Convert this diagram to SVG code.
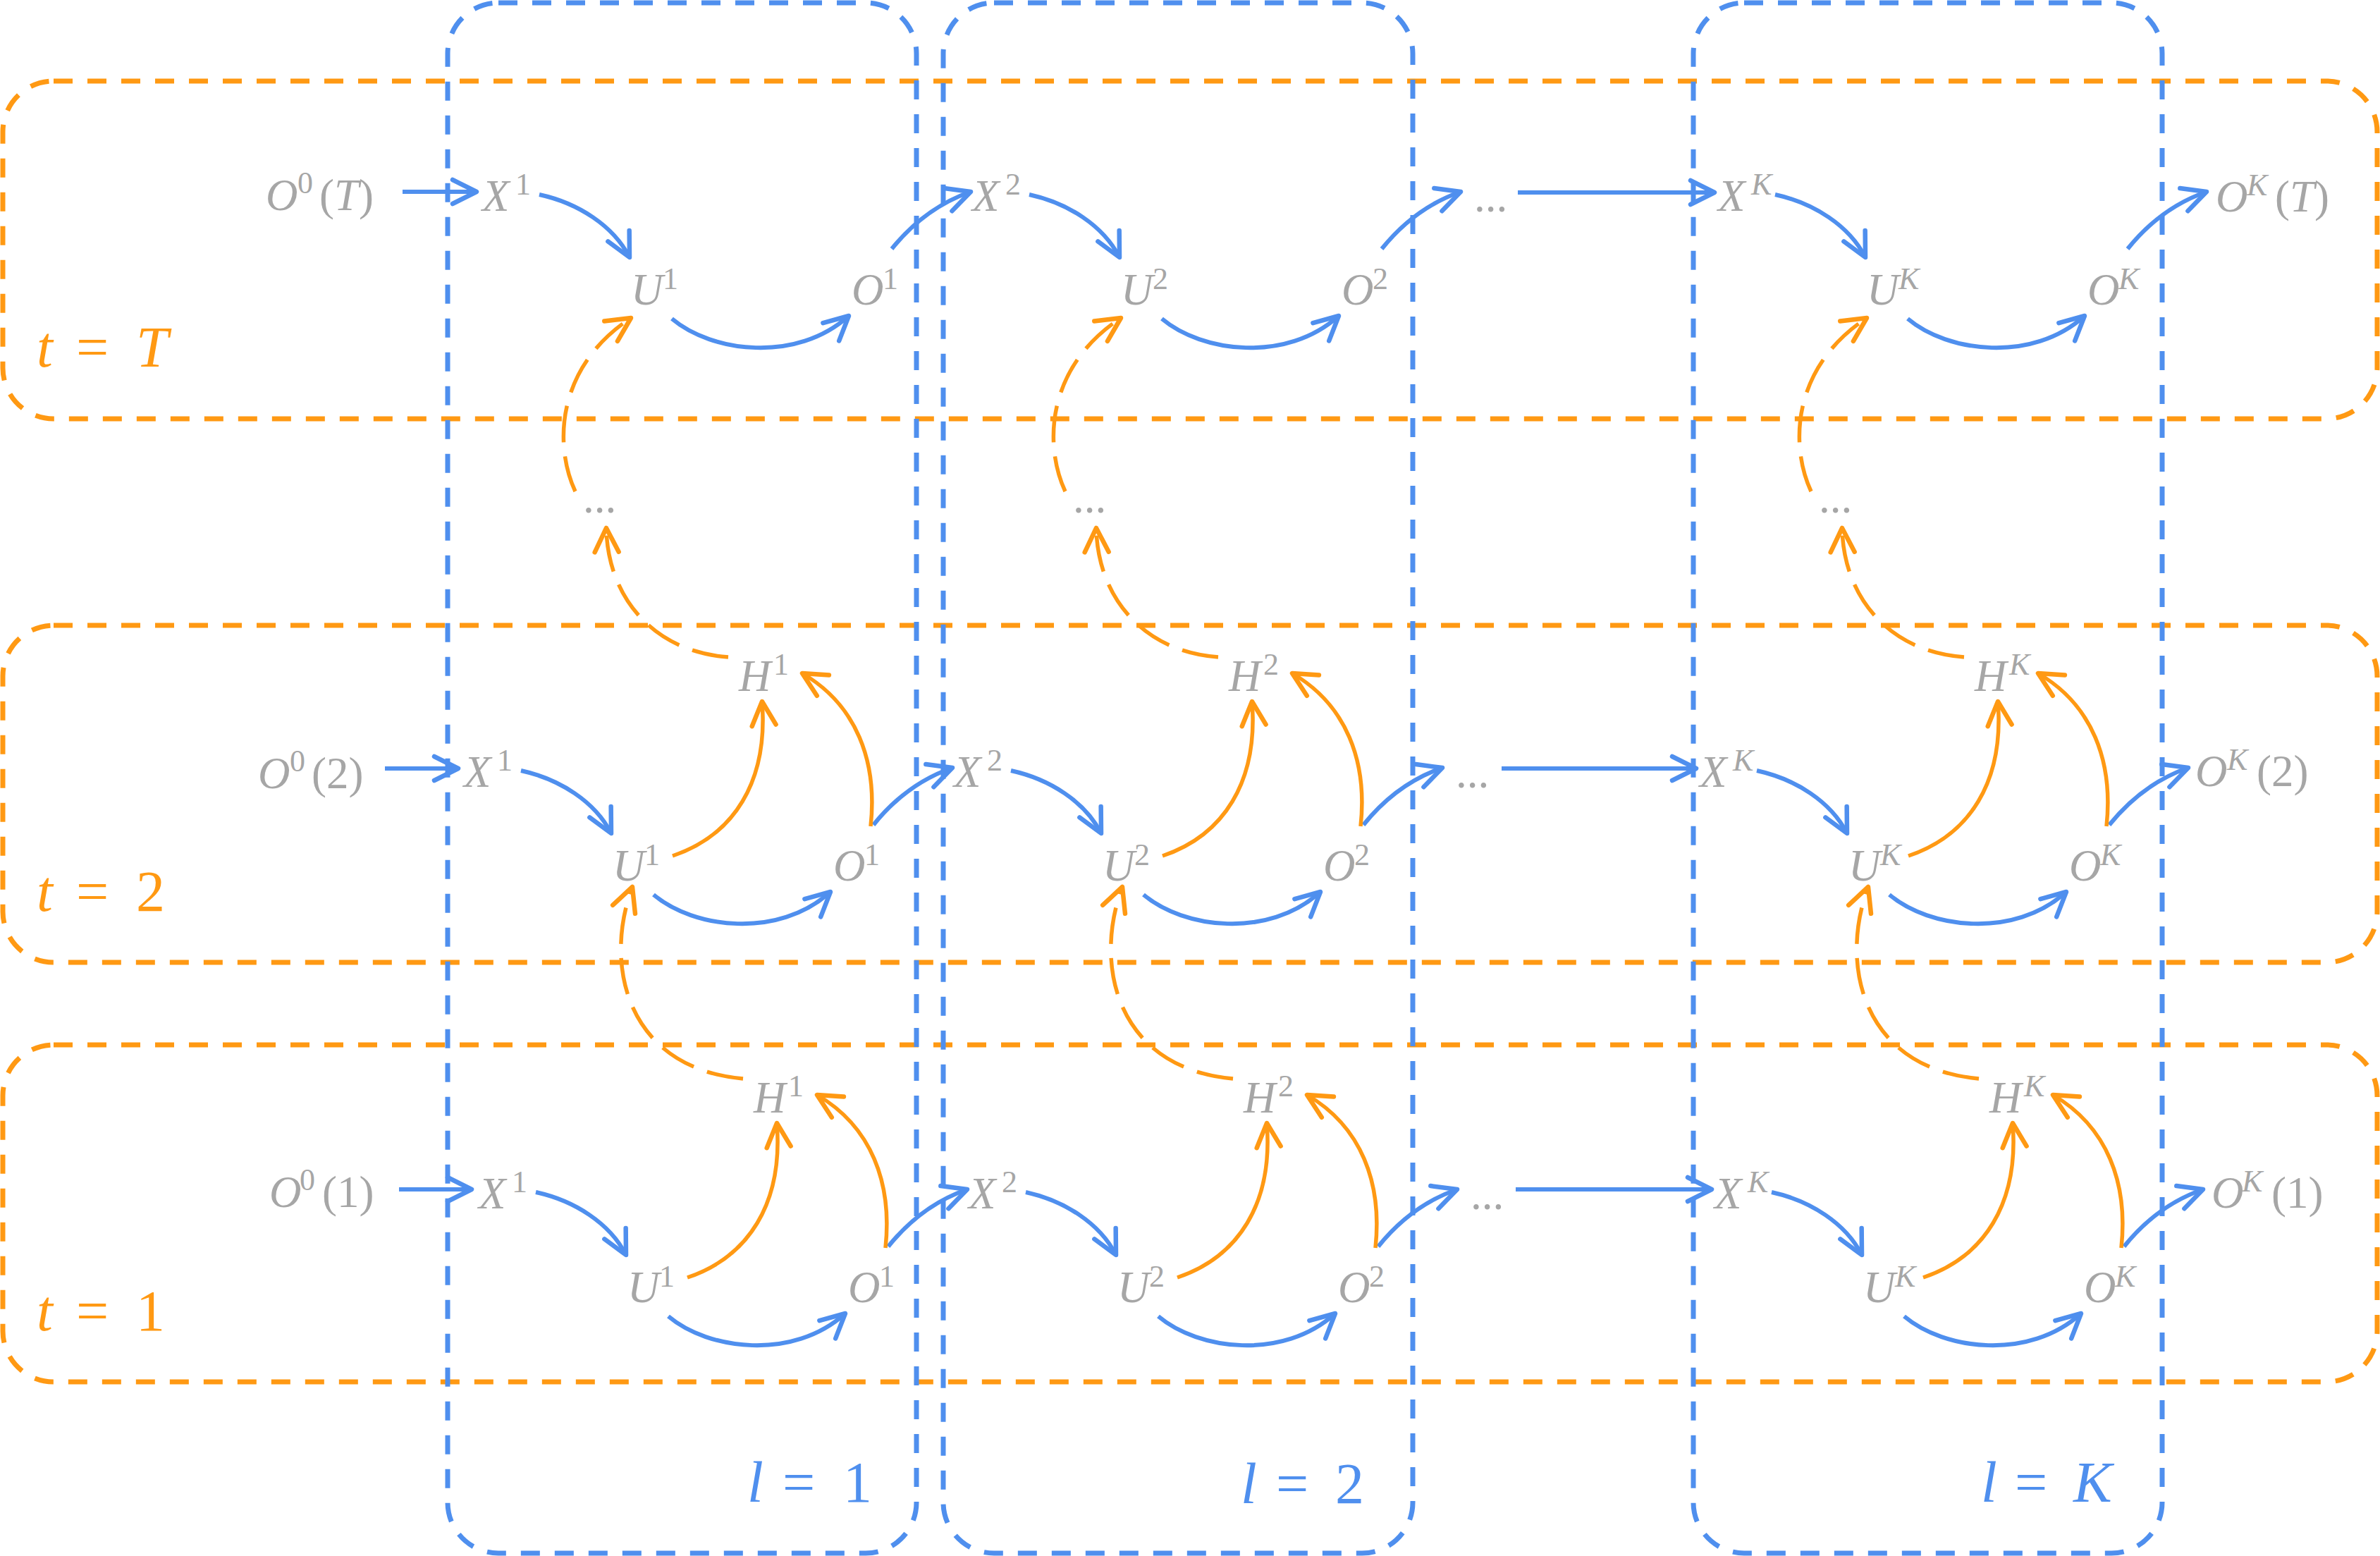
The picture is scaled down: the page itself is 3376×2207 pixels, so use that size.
<svg xmlns="http://www.w3.org/2000/svg" width="3376" height="2207" viewBox="0 0 3376 2207">
<style>
.fb{fill:none;stroke:#4F8FEE;stroke-width:7;stroke-dasharray:27 21}
.fo{fill:none;stroke:#FF9913;stroke-width:7;stroke-dasharray:27 21}
.n{font-family:"Liberation Serif",serif;font-size:63px;fill:#A6A6A6}
.s{font-size:44px}
.i{font-style:italic}
.cb{fill:none;stroke:#4F8FEE;stroke-width:6;marker-end:url(#ab)}
.co{fill:none;stroke:#FF9913;stroke-width:5.5;marker-end:url(#ao)}
.cd{fill:none;stroke:#FF9913;stroke-width:5.5;stroke-dasharray:52 20;marker-end:url(#ao)}
.lb{font-family:"Liberation Serif",serif;font-size:82px;fill:#4F8FEE}
.lo{font-family:"Liberation Serif",serif;font-size:82px;fill:#FF9913}
</style>
<defs>
<marker id="ab" markerUnits="userSpaceOnUse" viewBox="-40 -22 46 44" markerWidth="46" markerHeight="44" refX="0" refY="0" orient="auto" overflow="visible">
<path d="M-34,-17 L0,0 L-34,17" fill="none" stroke="#4F8FEE" stroke-width="6.5" stroke-linecap="round" stroke-linejoin="round"/>
</marker>
<marker id="ao" markerUnits="userSpaceOnUse" viewBox="-40 -22 46 44" markerWidth="46" markerHeight="44" refX="0" refY="0" orient="auto" overflow="visible">
<path d="M-34,-17 L0,0 L-34,17" fill="none" stroke="#FF9913" stroke-width="6.5" stroke-linecap="round" stroke-linejoin="round"/>
</marker>
</defs>

<g id="frames">
<rect class="fo" x="4" y="115" width="3368" height="479" rx="72"/>
<rect class="fo" x="4" y="887" width="3368" height="478" rx="72"/>
<rect class="fo" x="4" y="1482" width="3368" height="478" rx="72"/>
<rect class="fb" x="635" y="4" width="665" height="2199" rx="72"/>
<rect class="fb" x="1338" y="4" width="666" height="2199" rx="72"/>
<rect class="fb" x="2402" y="4" width="665" height="2199" rx="72"/>
</g>

<g id="connectors">
<!-- row T -->
<path class="cb" d="M571,272 L676,272"/>
<path class="cb" d="M2153,273 L2432,273"/>
<g transform="translate(0,0)">
<path class="cb" d="M765,276 C820,288 870,320 893,365"/>
<path class="cb" d="M953,452 C1010,500 1130,515 1204,448"/>
<path class="cb" d="M1265,353 C1290,322 1325,290 1377,272"/>
</g>
<g transform="translate(695,0)">
<path class="cb" d="M765,276 C820,288 870,320 893,365"/>
<path class="cb" d="M953,452 C1010,500 1130,515 1204,448"/>
<path class="cb" d="M1265,353 C1290,322 1325,290 1377,272"/>
</g>
<g transform="translate(1753,0)">
<path class="cb" d="M765,276 C820,288 870,320 893,365"/>
<path class="cb" d="M953,452 C1010,500 1130,515 1204,448"/>
<path class="cb" d="M1265,353 C1290,322 1325,290 1377,272"/>
</g>
<!-- row 2 -->
<path class="cb" d="M546,1090 L650,1090"/>
<path class="cb" d="M2130,1090 L2406,1090"/>
<g transform="translate(-26,817)">
<path class="cb" d="M765,276 C820,288 870,320 893,365"/>
<path class="cb" d="M953,452 C1010,500 1130,515 1204,448"/>
<path class="cb" d="M1265,353 C1290,322 1325,290 1377,272"/>
<path class="co" d="M980,397 C1066,368 1116,293 1107,178"/>
<path class="co" d="M1261,355 C1271,263 1241,183 1164,138"/>
</g>
<g transform="translate(669,817)">
<path class="cb" d="M765,276 C820,288 870,320 893,365"/>
<path class="cb" d="M953,452 C1010,500 1130,515 1204,448"/>
<path class="cb" d="M1265,353 C1290,322 1325,290 1377,272"/>
<path class="co" d="M980,397 C1066,368 1116,293 1107,178"/>
<path class="co" d="M1261,355 C1271,263 1241,183 1164,138"/>
</g>
<g transform="translate(1727,817)">
<path class="cb" d="M765,276 C820,288 870,320 893,365"/>
<path class="cb" d="M953,452 C1010,500 1130,515 1204,448"/>
<path class="cb" d="M1265,353 C1290,322 1325,290 1377,272"/>
<path class="co" d="M980,397 C1066,368 1116,293 1107,178"/>
<path class="co" d="M1261,355 C1271,263 1241,183 1164,138"/>
</g>
<!-- row 1 -->
<path class="cb" d="M566,1687 L669,1687"/>
<path class="cb" d="M2150,1687 L2428,1687"/>
<g transform="translate(-5,1415)">
<path class="cb" d="M765,276 C820,288 870,320 893,365"/>
<path class="cb" d="M953,452 C1010,500 1130,515 1204,448"/>
<path class="cb" d="M1265,353 C1290,322 1325,290 1377,272"/>
<path class="co" d="M980,397 C1066,368 1116,293 1107,178"/>
<path class="co" d="M1261,355 C1271,263 1241,183 1164,138"/>
</g>
<g transform="translate(690,1415)">
<path class="cb" d="M765,276 C820,288 870,320 893,365"/>
<path class="cb" d="M953,452 C1010,500 1130,515 1204,448"/>
<path class="cb" d="M1265,353 C1290,322 1325,290 1377,272"/>
<path class="co" d="M980,397 C1066,368 1116,293 1107,178"/>
<path class="co" d="M1261,355 C1271,263 1241,183 1164,138"/>
</g>
<g transform="translate(1748,1415)">
<path class="cb" d="M765,276 C820,288 870,320 893,365"/>
<path class="cb" d="M953,452 C1010,500 1130,515 1204,448"/>
<path class="cb" d="M1265,353 C1290,322 1325,290 1377,272"/>
<path class="co" d="M980,397 C1066,368 1116,293 1107,178"/>
<path class="co" d="M1261,355 C1271,263 1241,183 1164,138"/>
</g>
<!-- dashed inter-row -->
<g transform="translate(0,0)">
<path class="cd" d="M1033,932 C930,925 862,850 860,749"/>
<path class="cd" d="M816,697 C785,630 790,520 895,451"/>
<path class="cd" d="M1054,1530 C890,1515 855,1370 897,1258"/>
</g>
<g transform="translate(695,0)">
<path class="cd" d="M1033,932 C930,925 862,850 860,749"/>
<path class="cd" d="M816,697 C785,630 790,520 895,451"/>
<path class="cd" d="M1054,1530 C890,1515 855,1370 897,1258"/>
</g>
<g transform="translate(1753,0)">
<path class="cd" d="M1033,932 C930,925 862,850 860,749"/>
<path class="cd" d="M816,697 C785,630 790,520 895,451"/>
<path class="cd" d="M1054,1530 C890,1515 855,1370 897,1258"/>
</g>
</g>

<!-- row T nodes -->
<g id="O0-T"><text class="n" y="298"><tspan x="377" class="i">O</tspan><tspan x="422" y="274" class="s">0</tspan><tspan x="453" y="298">(</tspan><tspan class="i">T</tspan>)</text></g>
<g id="X1-T" transform="translate(684,299)"><text class="n i">X</text><text class="n s" x="47" y="-23">1</text></g>
<g id="U1-T" transform="translate(895,432)"><text class="n i">U</text><text class="n s" x="45" y="-22">1</text></g>
<g id="O1-T" transform="translate(1208,432)"><text class="n i">O</text><text class="n s" x="44" y="-22">1</text></g>
<g id="X2-T" transform="translate(1379,299)"><text class="n i">X</text><text class="n s" x="47" y="-23">2</text></g>
<g id="U2-T" transform="translate(1590,432)"><text class="n i">U</text><text class="n s" x="45" y="-22">2</text></g>
<g id="O2-T" transform="translate(1903,432)"><text class="n i">O</text><text class="n s" x="44" y="-22">2</text></g>
<g id="dots-T" transform="translate(2091,300)"><text class="n">...</text></g>
<g id="XK-T" transform="translate(2437,299)"><text class="n i">X</text><text class="n s i" x="47" y="-23">K</text></g>
<g id="UK-T" transform="translate(2648,432)"><text class="n i">U</text><text class="n s i" x="45" y="-22">K</text></g>
<g id="OK-T" transform="translate(2961,432)"><text class="n i">O</text><text class="n s i" x="44" y="-22">K</text></g>
<g id="OKT"><text class="n" y="300"><tspan x="3143" class="i">O</tspan><tspan x="3187" y="277" class="s i">K</tspan><tspan x="3227" y="300">(</tspan><tspan class="i">T</tspan>)</text></g>

<!-- vertical dots -->
<g id="vdots-1" transform="translate(827,727)"><text class="n">...</text></g>
<g id="vdots-2" transform="translate(1522,727)"><text class="n">...</text></g>
<g id="vdots-K" transform="translate(2580,727)"><text class="n">...</text></g>

<!-- row 2 nodes -->
<g id="O0-2"><text class="n" y="1118"><tspan x="366" class="i">O</tspan><tspan x="411" y="1094" class="s">0</tspan><tspan x="442" y="1118">(2)</tspan></text></g>
<g id="X1-2" transform="translate(658,1116)"><text class="n i">X</text><text class="n s" x="47" y="-23">1</text></g>
<g id="U1-2" transform="translate(869,1249)"><text class="n i">U</text><text class="n s" x="45" y="-22">1</text></g>
<g id="O1-2" transform="translate(1182,1249)"><text class="n i">O</text><text class="n s" x="44" y="-22">1</text></g>
<g id="H1-2" transform="translate(1048,980)"><text class="n i">H</text><text class="n s" x="49" y="-23">1</text></g>
<g id="X2-2" transform="translate(1353,1116)"><text class="n i">X</text><text class="n s" x="47" y="-23">2</text></g>
<g id="U2-2" transform="translate(1564,1249)"><text class="n i">U</text><text class="n s" x="45" y="-22">2</text></g>
<g id="O2-2" transform="translate(1877,1249)"><text class="n i">O</text><text class="n s" x="44" y="-22">2</text></g>
<g id="H2-2" transform="translate(1743,980)"><text class="n i">H</text><text class="n s" x="49" y="-23">2</text></g>
<g id="dots-2" transform="translate(2065,1117)"><text class="n">...</text></g>
<g id="XK-2" transform="translate(2411,1116)"><text class="n i">X</text><text class="n s i" x="47" y="-23">K</text></g>
<g id="UK-2" transform="translate(2622,1249)"><text class="n i">U</text><text class="n s i" x="45" y="-22">K</text></g>
<g id="OK-2" transform="translate(2935,1249)"><text class="n i">O</text><text class="n s i" x="44" y="-22">K</text></g>
<g id="HK-2" transform="translate(2801,980)"><text class="n i">H</text><text class="n s i" x="49" y="-23">K</text></g>
<g id="OK2"><text class="n" y="1115"><tspan x="3114" class="i">O</tspan><tspan x="3159" y="1092" class="s i">K</tspan><tspan x="3201" y="1115">(2)</tspan></text></g>

<!-- row 1 nodes -->
<g id="O0-1"><text class="n" y="1712"><tspan x="382" class="i">O</tspan><tspan x="425" y="1688" class="s">0</tspan><tspan x="457" y="1712">(1)</tspan></text></g>
<g id="X1-1" transform="translate(679,1714)"><text class="n i">X</text><text class="n s" x="47" y="-23">1</text></g>
<g id="U1-1" transform="translate(890,1847)"><text class="n i">U</text><text class="n s" x="45" y="-22">1</text></g>
<g id="O1-1" transform="translate(1203,1847)"><text class="n i">O</text><text class="n s" x="44" y="-22">1</text></g>
<g id="H1-1" transform="translate(1069,1578)"><text class="n i">H</text><text class="n s" x="49" y="-23">1</text></g>
<g id="X2-1" transform="translate(1374,1714)"><text class="n i">X</text><text class="n s" x="47" y="-23">2</text></g>
<g id="U2-1" transform="translate(1585,1847)"><text class="n i">U</text><text class="n s" x="45" y="-22">2</text></g>
<g id="O2-1" transform="translate(1898,1847)"><text class="n i">O</text><text class="n s" x="44" y="-22">2</text></g>
<g id="H2-1" transform="translate(1764,1578)"><text class="n i">H</text><text class="n s" x="49" y="-23">2</text></g>
<g id="dots-1" transform="translate(2086,1715)"><text class="n">...</text></g>
<g id="XK-1" transform="translate(2432,1714)"><text class="n i">X</text><text class="n s i" x="47" y="-23">K</text></g>
<g id="UK-1" transform="translate(2643,1847)"><text class="n i">U</text><text class="n s i" x="45" y="-22">K</text></g>
<g id="OK-1" transform="translate(2956,1847)"><text class="n i">O</text><text class="n s i" x="44" y="-22">K</text></g>
<g id="HK-1" transform="translate(2822,1578)"><text class="n i">H</text><text class="n s i" x="49" y="-23">K</text></g>
<g id="OK1"><text class="n" y="1713"><tspan x="3137" class="i">O</tspan><tspan x="3180" y="1690" class="s i">K</tspan><tspan x="3222" y="1713">(1)</tspan></text></g>

<!-- labels -->
<g id="label-tT"><text class="lo" y="520"><tspan x="52" class="i">t</tspan><tspan x="108">=</tspan><tspan x="193" class="i">T</tspan></text></g>
<g id="label-t2"><text class="lo" y="1292"><tspan x="52" class="i">t</tspan><tspan x="108">=</tspan><tspan x="193">2</tspan></text></g>
<g id="label-t1"><text class="lo" y="1887"><tspan x="52" class="i">t</tspan><tspan x="108">=</tspan><tspan x="193">1</tspan></text></g>
<g id="label-l1"><text class="lb" y="2130"><tspan x="1060" class="i">l</tspan><tspan x="1110">=</tspan><tspan x="1196">1</tspan></text></g>
<g id="label-l2"><text class="lb" y="2132"><tspan x="1760" class="i">l</tspan><tspan x="1810">=</tspan><tspan x="1894">2</tspan></text></g>
<g id="label-lK"><text class="lb" y="2130"><tspan x="2810" class="i">l</tspan><tspan x="2858">=</tspan><tspan x="2941" class="i">K</tspan></text></g>
</svg>
